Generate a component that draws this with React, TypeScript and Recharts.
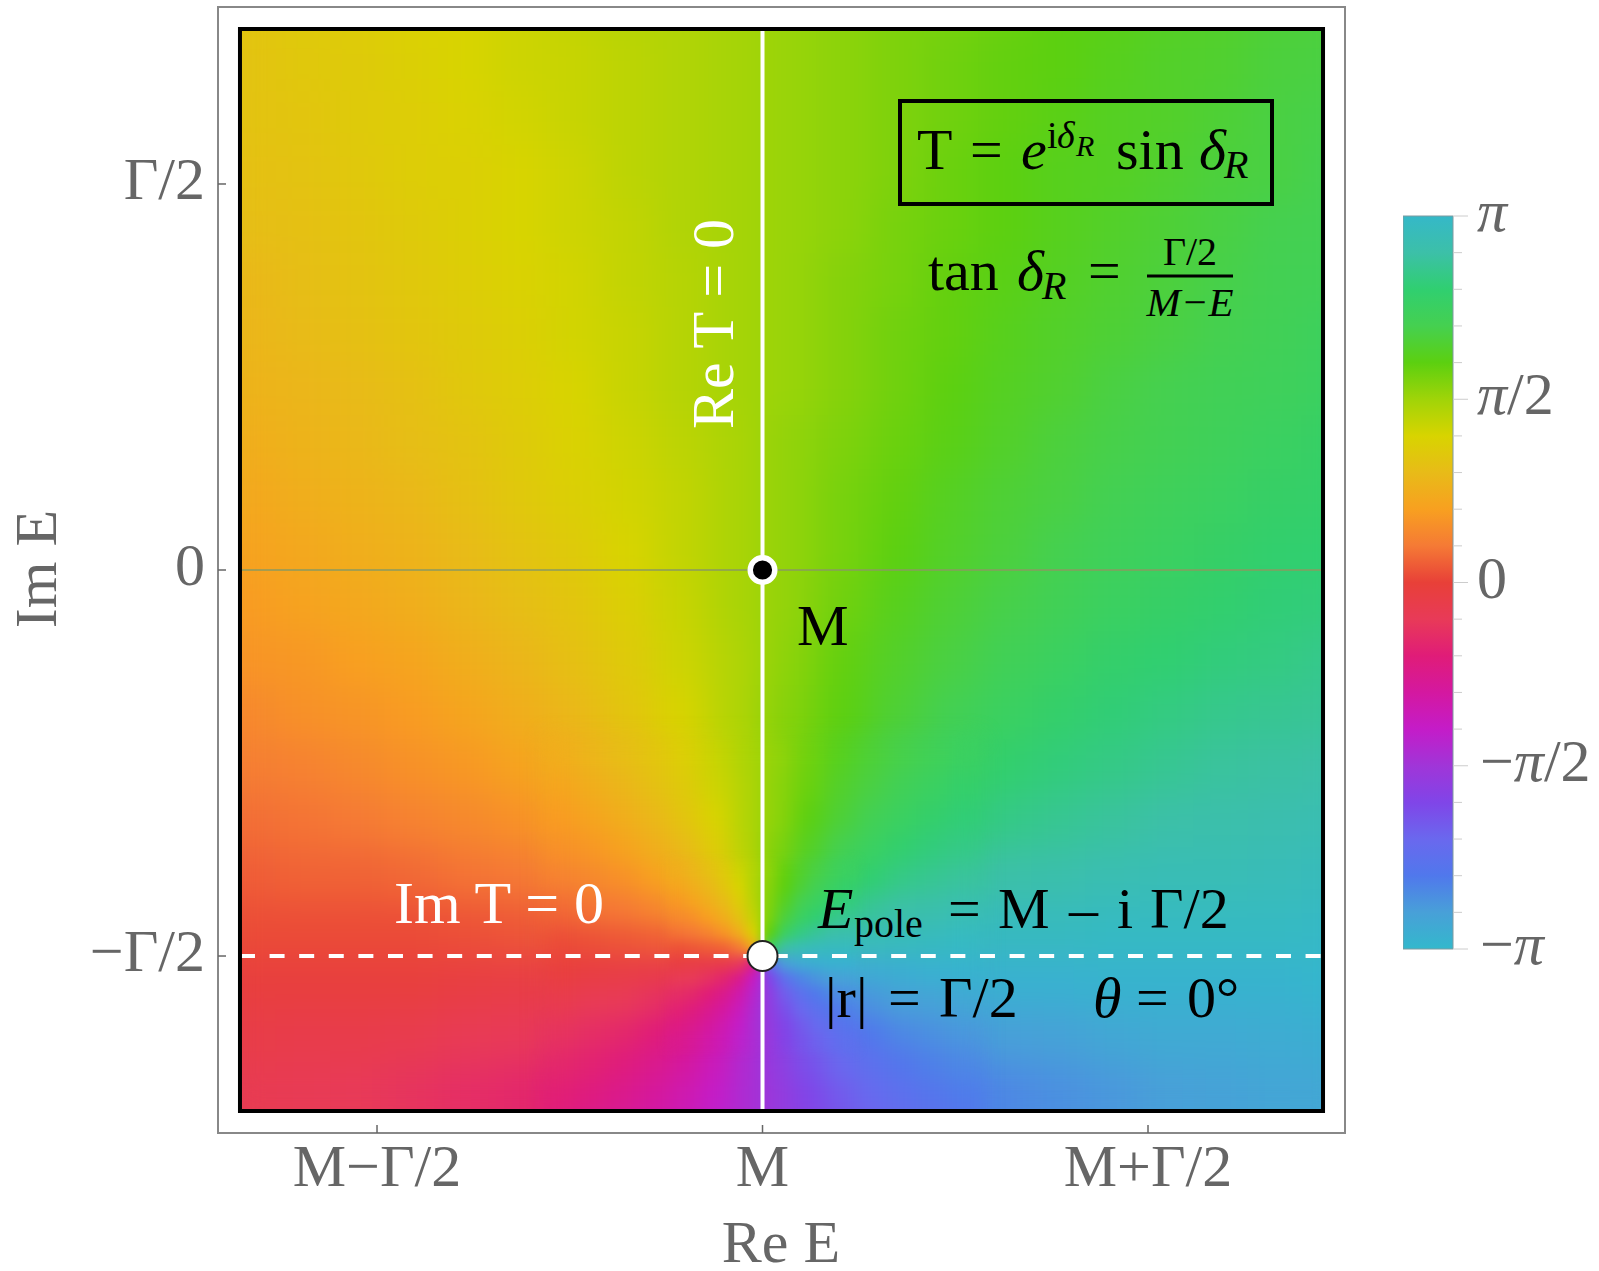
import { Bar, BarChart, ReferenceArea, ReferenceDot, ReferenceLine, Scatter, ScatterChart, XAxis, YAxis } from "recharts";

// plot axes, in units of Gamma/2 around M
const xTicks = [-1, 0, 1];
const xTickLabels = ["M−Γ/2", "M", "M+Γ/2"];
const yTicks = [-1, 0, 1];
const yTickLabels = ["−Γ/2", "0", "Γ/2"];

// colorbar, from -pi to pi in steps of pi/10
const barTicks = [-1, -0.9, -0.8, -0.7, -0.6, -0.5, -0.4, -0.3, -0.2, -0.1, 0, 0.1, 0.2, 0.3, 0.4, 0.5, 0.6, 0.7, 0.8, 0.9, 1];
const barColors = [
    "#33b8cc", "#48a0d8", "#5078ec", "#6a68ee", "#8045e8", "#a035d8", "#c41cc8", "#d418a0", "#e01c78", "#e83a58", "#e84038",
    "#f57a35", "#f8a020", "#e8bb18", "#d8d400", "#a0d408", "#5cd010", "#45d050", "#30cf70", "#3cc0a8", "#35b8c8",
];

// arg T / pi
const gridX = [-1.33, -1.19, -1.05, -0.91, -0.77, -0.63, -0.49, -0.35, -0.21, -0.07, 0.07, 0.21, 0.35, 0.49, 0.63, 0.77, 0.91, 1.05, 1.19, 1.33, 1.47];
const gridY = [1.45, 1.31, 1.17, 1.03, 0.89, 0.75, 0.61, 0.47, 0.33, 0.19, 0.05, -0.09, -0.23, -0.37, -0.51, -0.65, -0.79, -0.93, -1.07, -1.21, -1.35];
const gridPhase = [
    [0.34, 0.36, 0.37, 0.39, 0.4, 0.42, 0.44, 0.46, 0.47, 0.49, 0.51, 0.53, 0.55, 0.56, 0.58, 0.6, 0.61, 0.63, 0.64, 0.66, 0.67],
    [0.33, 0.35, 0.36, 0.38, 0.4, 0.42, 0.43, 0.45, 0.47, 0.49, 0.51, 0.53, 0.55, 0.57, 0.59, 0.6, 0.62, 0.64, 0.65, 0.67, 0.68],
    [0.33, 0.34, 0.36, 0.37, 0.39, 0.41, 0.43, 0.45, 0.47, 0.49, 0.51, 0.53, 0.55, 0.57, 0.59, 0.61, 0.63, 0.64, 0.66, 0.68, 0.69],
    [0.32, 0.33, 0.35, 0.37, 0.38, 0.4, 0.42, 0.45, 0.47, 0.49, 0.51, 0.53, 0.55, 0.58, 0.6, 0.62, 0.63, 0.65, 0.67, 0.68, 0.7],
    [0.31, 0.32, 0.34, 0.36, 0.38, 0.4, 0.42, 0.44, 0.47, 0.49, 0.51, 0.53, 0.56, 0.58, 0.6, 0.62, 0.64, 0.66, 0.68, 0.7, 0.71],
    [0.29, 0.31, 0.33, 0.35, 0.37, 0.39, 0.41, 0.44, 0.46, 0.49, 0.51, 0.54, 0.56, 0.59, 0.61, 0.63, 0.65, 0.67, 0.69, 0.71, 0.72],
    [0.28, 0.3, 0.32, 0.34, 0.36, 0.38, 0.41, 0.43, 0.46, 0.49, 0.51, 0.54, 0.57, 0.59, 0.62, 0.64, 0.66, 0.68, 0.7, 0.72, 0.74],
    [0.27, 0.28, 0.3, 0.32, 0.35, 0.37, 0.4, 0.43, 0.46, 0.49, 0.51, 0.54, 0.57, 0.6, 0.63, 0.65, 0.68, 0.7, 0.72, 0.73, 0.75],
    [0.25, 0.27, 0.29, 0.31, 0.33, 0.36, 0.39, 0.42, 0.45, 0.48, 0.52, 0.55, 0.58, 0.61, 0.64, 0.67, 0.69, 0.71, 0.73, 0.75, 0.77],
    [0.23, 0.25, 0.27, 0.29, 0.32, 0.35, 0.38, 0.41, 0.44, 0.48, 0.52, 0.56, 0.59, 0.63, 0.66, 0.68, 0.71, 0.73, 0.75, 0.77, 0.78],
    [0.21, 0.23, 0.25, 0.27, 0.3, 0.33, 0.36, 0.4, 0.44, 0.48, 0.52, 0.56, 0.6, 0.64, 0.67, 0.7, 0.73, 0.75, 0.77, 0.79, 0.8],
    [0.19, 0.21, 0.23, 0.25, 0.28, 0.31, 0.34, 0.38, 0.43, 0.48, 0.52, 0.57, 0.62, 0.66, 0.69, 0.72, 0.75, 0.77, 0.79, 0.81, 0.82],
    [0.17, 0.18, 0.2, 0.22, 0.25, 0.28, 0.32, 0.36, 0.42, 0.47, 0.53, 0.59, 0.64, 0.68, 0.72, 0.75, 0.78, 0.8, 0.82, 0.83, 0.85],
    [0.14, 0.16, 0.17, 0.19, 0.22, 0.25, 0.29, 0.34, 0.4, 0.47, 0.54, 0.6, 0.66, 0.71, 0.75, 0.78, 0.81, 0.83, 0.85, 0.86, 0.87],
    [0.11, 0.12, 0.14, 0.16, 0.18, 0.21, 0.25, 0.3, 0.37, 0.46, 0.55, 0.63, 0.7, 0.75, 0.79, 0.82, 0.84, 0.86, 0.88, 0.89, 0.9],
    [0.08, 0.09, 0.1, 0.12, 0.14, 0.16, 0.2, 0.25, 0.33, 0.44, 0.56, 0.67, 0.75, 0.8, 0.84, 0.86, 0.88, 0.9, 0.91, 0.92, 0.93],
    [0.05, 0.06, 0.06, 0.07, 0.09, 0.1, 0.13, 0.17, 0.25, 0.4, 0.6, 0.75, 0.83, 0.87, 0.9, 0.91, 0.93, 0.94, 0.94, 0.95, 0.96],
    [0.02, 0.02, 0.02, 0.02, 0.03, 0.04, 0.05, 0.06, 0.1, 0.25, 0.75, 0.9, 0.94, 0.96, 0.97, 0.97, 0.98, 0.98, 0.98, 0.98, 0.99],
    [-0.02, -0.02, -0.02, -0.02, -0.03, -0.04, -0.05, -0.06, -0.1, -0.25, -0.75, -0.9, -0.94, -0.96, -0.97, -0.97, -0.98, -0.98, -0.98, -0.98, -0.99],
    [-0.05, -0.06, -0.06, -0.07, -0.09, -0.1, -0.13, -0.17, -0.25, -0.4, -0.6, -0.75, -0.83, -0.87, -0.9, -0.91, -0.93, -0.94, -0.94, -0.95, -0.96],
    [-0.08, -0.09, -0.1, -0.12, -0.14, -0.16, -0.2, -0.25, -0.33, -0.44, -0.56, -0.67, -0.75, -0.8, -0.84, -0.86, -0.88, -0.9, -0.91, -0.92, -0.93],
];

// tighter cells below and above the pole
const midX = [-0.52, -0.44, -0.36, -0.28, -0.2, -0.12, -0.04, 0.04, 0.12, 0.2, 0.28, 0.36, 0.44, 0.52];
const midY = [-0.48, -0.56, -0.64, -0.72, -0.8, -0.88, -0.96, -1.04, -1.12, -1.2, -1.28, -1.36, -1.44];
const midPhase = [
    [0.25, 0.28, 0.31, 0.34, 0.38, 0.43, 0.48, 0.52, 0.57, 0.62, 0.66, 0.69, 0.72, 0.75],
    [0.22, 0.25, 0.28, 0.32, 0.36, 0.42, 0.47, 0.53, 0.58, 0.64, 0.68, 0.72, 0.75, 0.78],
    [0.19, 0.22, 0.25, 0.29, 0.34, 0.4, 0.47, 0.53, 0.6, 0.66, 0.71, 0.75, 0.78, 0.81],
    [0.16, 0.18, 0.21, 0.25, 0.3, 0.37, 0.46, 0.55, 0.63, 0.7, 0.75, 0.79, 0.82, 0.84],
    [0.12, 0.14, 0.16, 0.2, 0.25, 0.33, 0.44, 0.56, 0.67, 0.75, 0.8, 0.84, 0.86, 0.88],
    [0.07, 0.09, 0.1, 0.13, 0.17, 0.25, 0.4, 0.6, 0.75, 0.83, 0.87, 0.9, 0.91, 0.93],
    [0.02, 0.03, 0.04, 0.05, 0.06, 0.1, 0.25, 0.75, 0.9, 0.94, 0.95, 0.96, 0.97, 0.98],
    [-0.02, -0.03, -0.04, -0.05, -0.06, -0.1, -0.25, -0.75, -0.9, -0.94, -0.95, -0.96, -0.97, -0.98],
    [-0.07, -0.09, -0.1, -0.13, -0.17, -0.25, -0.4, -0.6, -0.75, -0.83, -0.87, -0.9, -0.91, -0.93],
    [-0.12, -0.14, -0.16, -0.2, -0.25, -0.33, -0.44, -0.56, -0.67, -0.75, -0.8, -0.84, -0.86, -0.88],
    [-0.16, -0.18, -0.21, -0.25, -0.3, -0.37, -0.46, -0.55, -0.63, -0.7, -0.75, -0.79, -0.82, -0.84],
    [-0.19, -0.22, -0.25, -0.29, -0.34, -0.4, -0.47, -0.53, -0.6, -0.66, -0.71, -0.75, -0.78, -0.81],
    [-0.22, -0.25, -0.28, -0.32, -0.36, -0.42, -0.47, -0.53, -0.58, -0.64, -0.68, -0.72, -0.75, -0.78],
];

// closer look around the pole
const poleX = [-0.22, -0.18, -0.14, -0.1, -0.06, -0.02, 0.02, 0.06, 0.1, 0.14, 0.18, 0.22];
const poleY = [-0.78, -0.82, -0.86, -0.9, -0.94, -0.98, -1.02, -1.06, -1.1, -1.14, -1.18, -1.22];
const polePhase = [
    [0.25, 0.28, 0.32, 0.36, 0.42, 0.47, 0.53, 0.59, 0.64, 0.68, 0.72, 0.75],
    [0.22, 0.25, 0.29, 0.34, 0.4, 0.47, 0.54, 0.6, 0.66, 0.71, 0.75, 0.78],
    [0.18, 0.21, 0.25, 0.3, 0.37, 0.46, 0.55, 0.63, 0.7, 0.75, 0.79, 0.82],
    [0.14, 0.16, 0.2, 0.25, 0.33, 0.44, 0.56, 0.67, 0.75, 0.8, 0.84, 0.86],
    [0.09, 0.1, 0.13, 0.17, 0.25, 0.4, 0.6, 0.75, 0.83, 0.87, 0.9, 0.91],
    [0.03, 0.04, 0.05, 0.06, 0.1, 0.25, 0.75, 0.9, 0.94, 0.96, 0.97, 0.97],
    [-0.03, -0.04, -0.05, -0.06, -0.1, -0.25, -0.75, -0.9, -0.94, -0.96, -0.97, -0.97],
    [-0.09, -0.1, -0.13, -0.17, -0.25, -0.4, -0.6, -0.75, -0.83, -0.87, -0.9, -0.91],
    [-0.14, -0.16, -0.2, -0.25, -0.33, -0.44, -0.56, -0.67, -0.75, -0.8, -0.84, -0.86],
    [-0.18, -0.21, -0.25, -0.3, -0.37, -0.46, -0.55, -0.63, -0.7, -0.75, -0.79, -0.82],
    [-0.22, -0.25, -0.29, -0.34, -0.4, -0.47, -0.54, -0.6, -0.66, -0.71, -0.75, -0.78],
    [-0.25, -0.28, -0.32, -0.36, -0.42, -0.47, -0.53, -0.59, -0.64, -0.68, -0.72, -0.75],
];

const UNIT = 385.5; // px per Gamma/2
const SERIF = '"Liberation Serif", serif';
const GRAY = "#666";

const hexToRgb = (hex: string) => [1, 3, 5].map((i) => parseInt(hex.slice(i, i + 2), 16));

const phaseColor = (phase: number) => {
    const pos = Math.min(19.999, Math.max(0, (phase + 1) * 10));
    const i = Math.floor(pos);
    const a = hexToRgb(barColors[i]);
    const b = hexToRgb(barColors[i + 1]);
    const c = a.map((v, k) => Math.round(v + (b[k] - v) * (pos - i)));
    return `rgb(${c[0]},${c[1]},${c[2]})`;
};

const toCells = (xs: number[], ys: number[], rows: number[][], size: number) =>
    rows.flatMap((row, r) => row.map((phase, c) => ({ x: xs[c], y: ys[r], phase, size })));

const coarseCells = toCells(gridX, gridY, gridPhase, 0.14);
const midCells = toCells(midX, midY, midPhase, 0.08);
const fineCells = toCells(poleX, poleY, polePhase, 0.04);

const CellShape = (props: any) => {
    const { cx, cy, payload } = props;
    const s = payload.size * UNIT + 1;
    return <rect x={cx - s / 2} y={cy - s / 2} width={s} height={s} fill={phaseColor(payload.phase)} />;
};

const XTick = (props: any) => {
    const { x, payload } = props;
    return (
        <g>
            <line x1={x} x2={x} y1={1133} y2={1125} stroke={GRAY} strokeWidth={1.5} />
            <text x={x} y={1186} textAnchor="middle" fontFamily={SERIF} fontSize={60} fill={GRAY}>
                {xTickLabels[xTicks.indexOf(payload.value)]}
            </text>
        </g>
    );
};

const YTick = (props: any) => {
    const { y, payload } = props;
    return (
        <g>
            <line x1={218} x2={226} y1={y} y2={y} stroke={GRAY} strokeWidth={1.5} />
            <text x={205} y={y + 15} textAnchor="end" fontFamily={SERIF} fontSize={60} fill={GRAY}>
                {yTickLabels[yTicks.indexOf(payload.value)]}
            </text>
        </g>
    );
};

const BarTick = (props: any) => {
    const { x, y, payload } = props;
    const v = payload.value;
    const major = v === -1 || v === -0.5 || v === 0 || v === 0.5 || v === 1;
    const label = major && (
        <text x={v < 0 ? x + 27 : x + 24} y={y + 15} fontFamily={SERIF} fontSize={60} fill={GRAY}>
            {v < 0 ? "−" : ""}
            {v === 0 ? "0" : <tspan fontStyle="italic">π</tspan>}
            {Math.abs(v) === 0.5 ? "/2" : ""}
        </text>
    );
    return (
        <g>
            <line x1={x} x2={x + (major ? 15 : 9)} y1={y} y2={y} stroke="#ccc" strokeWidth={1} />
            {label}
        </g>
    );
};

const Txt = ({ x, y, size = 60, it = false, fill = "#000", anchor = "start", children }: any) => (
    <text x={x} y={y} fontSize={size} fontFamily={SERIF} fontStyle={it ? "italic" : "normal"} fill={fill} textAnchor={anchor}>
        {children}
    </text>
);

export default function App() {
    return (
        <div style={{ position: "absolute", left: 0, top: 0, width: 1599, height: 1271, background: "#fff" }}>
            <style>{`.heat-coarse{filter:url(#soft)}.heat-mid{filter:url(#mid)}.heat-fine{filter:url(#fine)}`}</style>
            <svg width={0} height={0} style={{ position: "absolute" }}>
                <defs>
                    <filter id="soft" filterUnits="userSpaceOnUse" x={240} y={29} width={1083} height={1082} colorInterpolationFilters="sRGB">
                        <feGaussianBlur stdDeviation={18} />
                        <feComponentTransfer>
                            <feFuncA type="linear" slope={1000} />
                        </feComponentTransfer>
                    </filter>
                    <filter id="mid" filterUnits="userSpaceOnUse" x={240} y={29} width={1083} height={1082} colorInterpolationFilters="sRGB">
                        <feGaussianBlur stdDeviation={11} />
                    </filter>
                    <filter id="fine" filterUnits="userSpaceOnUse" x={240} y={29} width={1083} height={1082} colorInterpolationFilters="sRGB">
                        <feGaussianBlur stdDeviation={6} />
                    </filter>
                </defs>
            </svg>

            <div style={{ position: "absolute", left: 0, top: 0 }}>
                <ScatterChart width={1599} height={1271} margin={{ top: 7, right: 254, bottom: 0, left: 0 }}>
                    <XAxis
                        type="number"
                        dataKey="x"
                        domain={[-1.4125, 1.511]}
                        ticks={xTicks}
                        height={138}
                        stroke="#888"
                        strokeWidth={2}
                        tickLine={false}
                        tick={<XTick />}
                    />
                    <YAxis
                        type="number"
                        dataKey="y"
                        domain={[-1.4585, 1.4585]}
                        ticks={yTicks}
                        width={218}
                        stroke="#888"
                        strokeWidth={2}
                        tickLine={false}
                        tick={<YTick />}
                    />
                    <Scatter data={coarseCells} className="heat-coarse" shape={CellShape} isAnimationActive={false} />
                    <Scatter data={midCells} className="heat-mid" shape={CellShape} isAnimationActive={false} />
                    <Scatter data={fineCells} className="heat-fine" shape={CellShape} isAnimationActive={false} />
                    <ReferenceArea x1={-1.4125} x2={1.511} y1={-1.4585} y2={1.4585} fill="none" fillOpacity={0} stroke="#888" strokeWidth={2} zIndex={700} />
                    <ReferenceLine segment={[{ x: -1.3555, y: 0 }, { x: 1.454, y: 0 }]} stroke="#8a9a60" strokeWidth={1.5} zIndex={700} />
                    <ReferenceLine segment={[{ x: 0, y: -1.4016 }, { x: 0, y: 1.4016 }]} stroke="#fff" strokeWidth={4} zIndex={700} />
                    <ReferenceLine segment={[{ x: -1.3555, y: -1 }, { x: 1.454, y: -1 }]} stroke="#fff" strokeWidth={4} strokeDasharray="15 14.6" zIndex={700} />
                    <ReferenceArea x1={-1.3555} x2={1.454} y1={-1.4016} y2={1.4016} fill="none" fillOpacity={0} stroke="#000" strokeWidth={4} zIndex={710} />
                    <ReferenceDot x={0} y={0} r={12.3} fill="#000" stroke="#fff" strokeWidth={5.4} zIndex={720} />
                    <ReferenceDot x={0} y={-1} r={15} fill="#fff" stroke="#222" strokeWidth={2} zIndex={720} />
                </ScatterChart>
            </div>

            <div style={{ position: "absolute", left: 1403, top: 166 }}>
                <BarChart
                    width={196}
                    height={833}
                    data={[{ range: [-1, 1] }]}
                    barCategoryGap={0}
                    margin={{ top: 50, right: 0, bottom: 50, left: 0 }}
                >
                    <defs>
                        <linearGradient id="cb" x1="0" y1="1" x2="0" y2="0">
                            {barColors.map((c, i) => (
                                <stop key={i} offset={i / 20} stopColor={c} />
                            ))}
                        </linearGradient>
                    </defs>
                    <XAxis hide />
                    <YAxis
                        orientation="right"
                        type="number"
                        domain={[-1, 1]}
                        ticks={barTicks}
                        interval={0}
                        width={146}
                        axisLine={false}
                        tickLine={false}
                        tick={<BarTick />}
                        tickMargin={0}
                        tickSize={0}
                    />
                    <Bar dataKey="range" fill="url(#cb)" stroke="#7f9aa0" strokeWidth={1} isAnimationActive={false} />
                </BarChart>
            </div>

            <svg width={1599} height={1271} style={{ position: "absolute", left: 0, top: 0, pointerEvents: "none" }}>
                <Txt x={781} y={1262} fill={GRAY} anchor="middle">Re E</Txt>
                <g transform="translate(56 569) rotate(-90)">
                    <Txt x={0} y={0} fill={GRAY} anchor="middle">Im E</Txt>
                </g>
                <g transform="translate(733 324) rotate(-90)">
                    <Txt x={0} y={0} fill="#fff" anchor="middle">Re T = 0</Txt>
                </g>
                <Txt x={394} y={923} fill="#fff">Im T = 0</Txt>
                <Txt x={797} y={645} size={58}>M</Txt>

                <rect x={900} y={101} width={372} height={103} fill="none" stroke="#000" strokeWidth={4} />
                <Txt x={917} y={169} size={58}>T</Txt>
                <Txt x={970} y={169} size={58}>=</Txt>
                <Txt x={1021} y={169} size={58} it>e</Txt>
                <Txt x={1047} y={148} size={38}>i</Txt>
                <Txt x={1057} y={148} size={38} it>δ</Txt>
                <Txt x={1076} y={156} size={30} it>R</Txt>
                <Txt x={1116} y={169} size={58}>sin</Txt>
                <Txt x={1199} y={169} size={58} it>δ</Txt>
                <Txt x={1224} y={178} size={40} it>R</Txt>

                <Txt x={928} y={290} size={58}>tan</Txt>
                <Txt x={1017} y={290} size={58} it>δ</Txt>
                <Txt x={1042} y={299} size={40} it>R</Txt>
                <Txt x={1088} y={290} size={58}>=</Txt>
                <Txt x={1190} y={265} size={40} anchor="middle">Γ/2</Txt>
                <line x1={1147} x2={1233} y1={276} y2={276} stroke="#000" strokeWidth={3} />
                <Txt x={1190} y={316} size={41} it anchor="middle">M−E</Txt>

                <Txt x={818} y={928} size={58} it>E</Txt>
                <Txt x={854} y={937} size={40}>pole</Txt>
                <Txt x={948} y={928} size={58}>=</Txt>
                <Txt x={998} y={928} size={58}>M</Txt>
                <Txt x={1069} y={928} size={58}>–</Txt>
                <Txt x={1117} y={928} size={58}>i</Txt>
                <Txt x={1150} y={928} size={58}>Γ/2</Txt>

                <Txt x={825} y={1017} size={58}>|r|</Txt>
                <Txt x={888} y={1017} size={58}>=</Txt>
                <Txt x={939} y={1017} size={58}>Γ/2</Txt>
                <Txt x={1093} y={1017} size={58} it>θ</Txt>
                <Txt x={1136} y={1017} size={58}>=</Txt>
                <Txt x={1187} y={1017} size={58}>0°</Txt>
            </svg>
        </div>
    );
}
